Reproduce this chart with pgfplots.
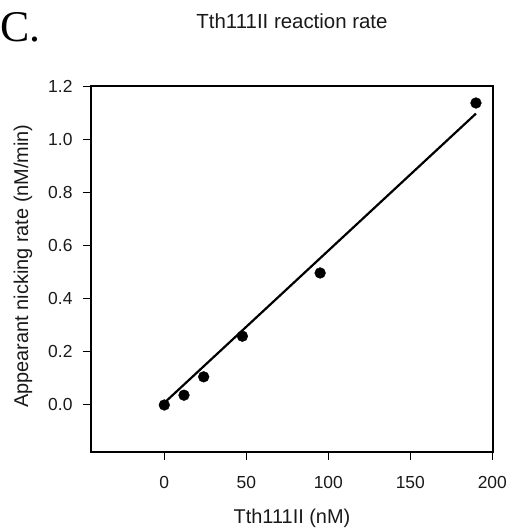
\documentclass[border=0pt]{standalone}
\usepackage{fontspec}
\setmainfont{Liberation Sans}
\newfontfamily\panelfont{Liberation Serif}
\usepackage{pgfplots}
\pgfplotsset{compat=1.18}

\begin{document}
\begin{tikzpicture}
\useasboundingbox (-91bp,-76bp) rectangle (420bp,452bp);
\begin{axis}[
  at={(0,0)}, anchor=south west,
  scale only axis, width=402bp, height=366bp,
  xmin=-44.7, xmax=200.4, ymin=-0.177, ymax=1.201,
  xtick={0,50,100,150,200},
  ytick={0,0.2,0.4,0.6,0.8,1.0,1.2},
  xtick pos=bottom, ytick pos=left,
  tick align=outside, major tick length=8bp,
  major tick style={line width=1bp, black},
  axis line style={line width=2.7bp},
  /pgf/number format/assume math mode=true,
  yticklabel style={/pgf/number format/fixed, /pgf/number format/fixed zerofill,
    /pgf/number format/precision=1, xshift=-7bp},
  tick label style={font=\fontsize{17.5}{20}\selectfont, text=black!90},
  xticklabel style={yshift=-13bp},
  xlabel={Tth111II (nM)},
  ylabel={Appearant nicking rate (nM/min)},
  label style={font=\fontsize{20}{24}\selectfont, text=black!90},
  x label style={at={(axis description cs:0.5,-0.180)}, anchor=center},
  y label style={at={(axis description cs:-0.169,0.508)}, anchor=center, rotate=0},
  title={Tth111II reaction rate},
  title style={at={(axis description cs:0.5,1.161)}, anchor=center,
    font=\fontsize{20.5}{24}\selectfont, text=black!90},
  clip=false,
]
\addplot[black, line width=2.2bp, no marks] coordinates {(0,0.008) (190,1.097)};
\addplot[only marks, mark=*, mark size=5.4bp, black] coordinates {
  (0,0.0) (12,0.037) (24,0.106) (47.6,0.259) (95,0.497) (190,1.137)
};
\end{axis}
\node[anchor=base west, inner sep=0pt, font=\panelfont\fontsize{44}{50}\selectfont]
  at (-90.5bp,410bp) {C.};
\end{tikzpicture}
\end{document}
